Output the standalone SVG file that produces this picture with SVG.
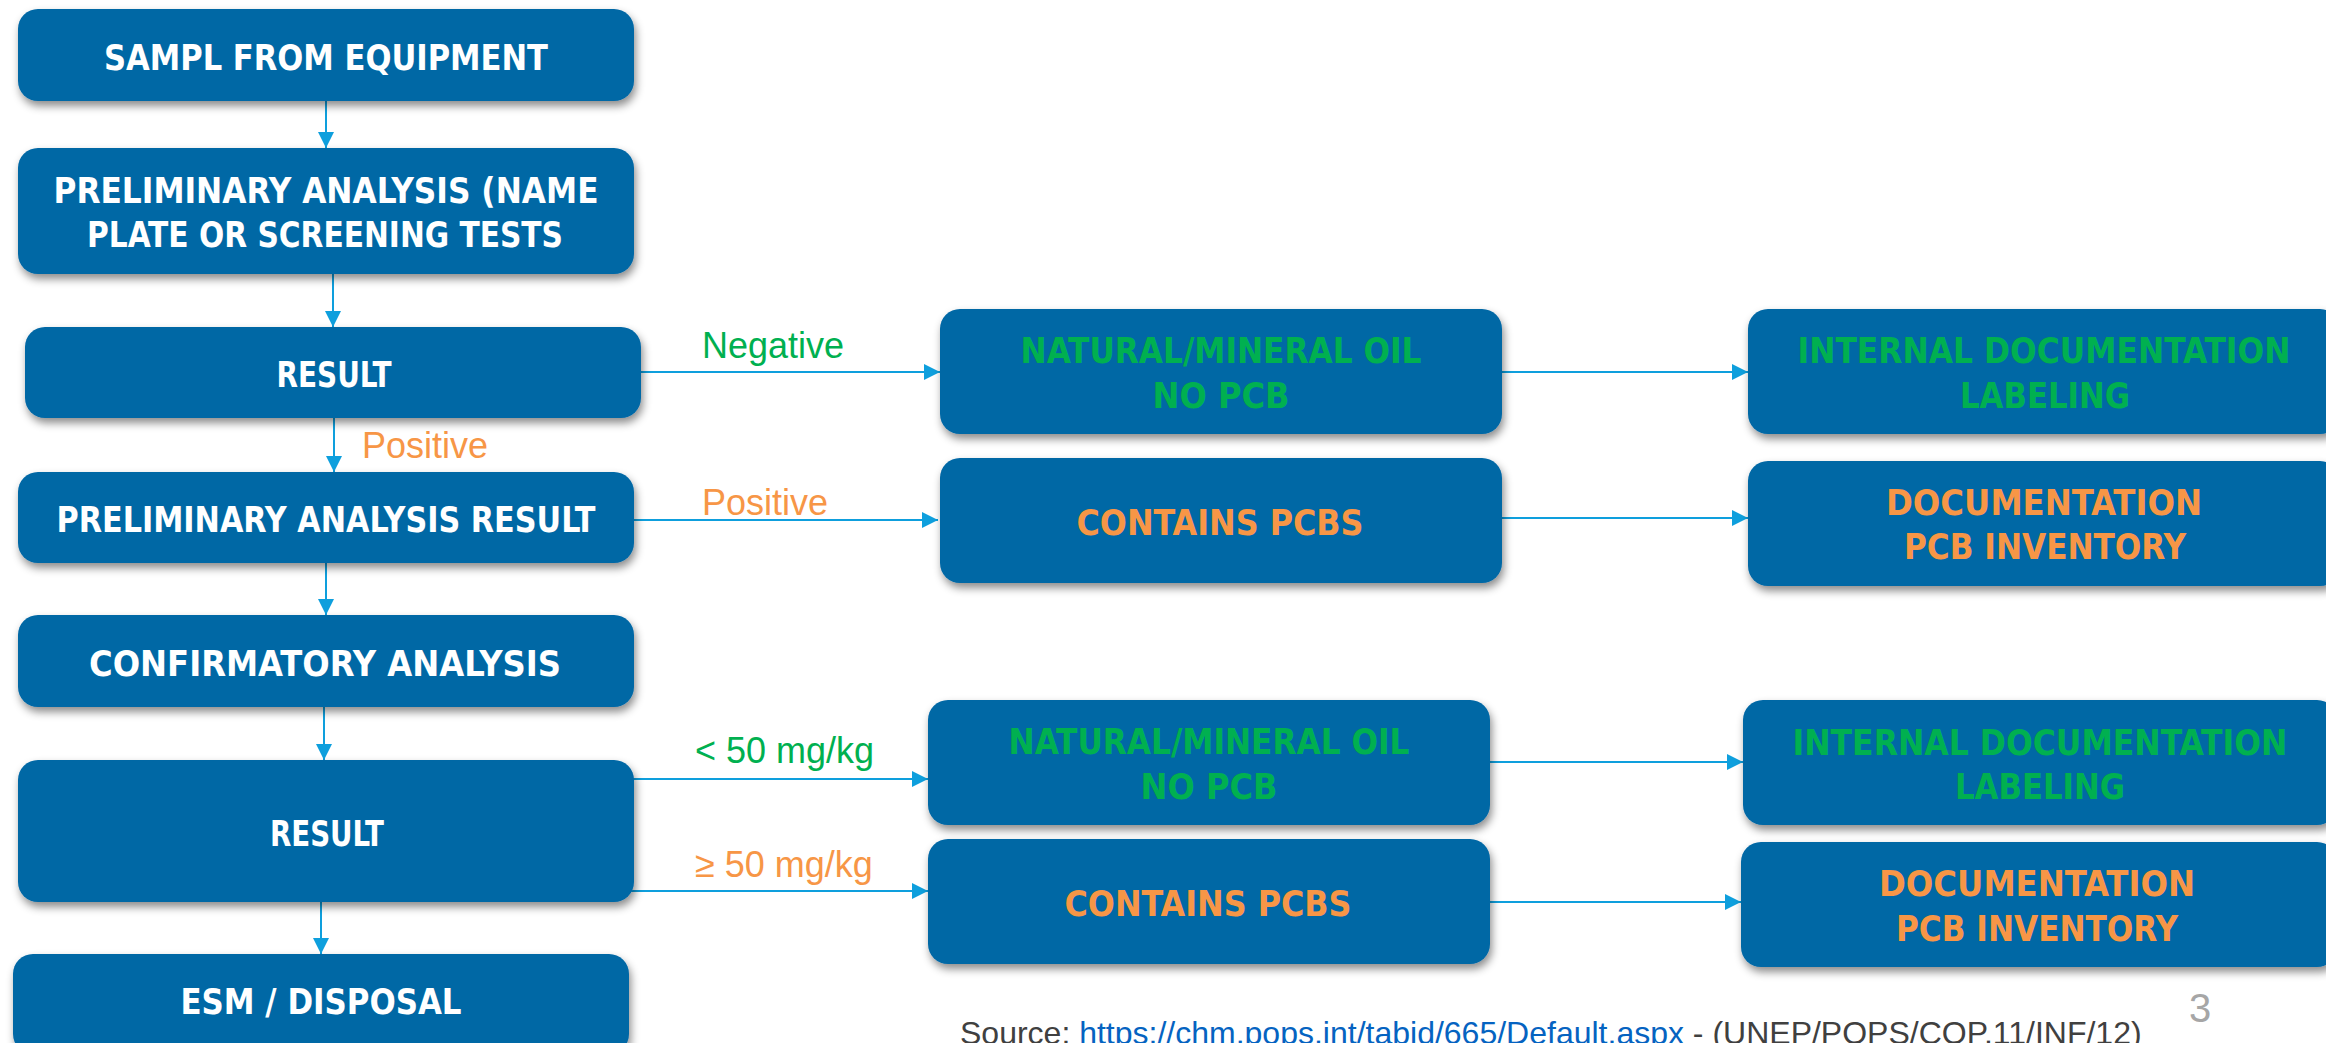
<svg xmlns="http://www.w3.org/2000/svg" width="2326" height="1043" viewBox="0 0 2326 1043">
<defs>
<filter id="sh" x="-10%" y="-20%" width="120%" height="150%">
<feDropShadow dx="2" dy="5" stdDeviation="4" flood-color="#000" flood-opacity="0.45"/>
</filter>
<marker id="ah" markerUnits="userSpaceOnUse" markerWidth="16" markerHeight="16" refX="16" refY="8" orient="auto">
<path d="M0,0 L16,8 L0,16 z" fill="#0E9FDD"/>
</marker>
<style>
.box{fill:#0467A5;filter:url(#sh)}
.t{font-family:"Liberation Sans Narrow","DejaVu Sans Condensed","Liberation Sans",sans-serif;font-weight:bold;font-size:36px;text-anchor:middle}
.w{fill:#FFFFFF}
.g{fill:#00B050}
.o{fill:#F79646}
.lbl{font-family:"Liberation Sans",Arial,sans-serif;font-size:36px}
.c{stroke:#0E9FDD;stroke-width:2;fill:none;marker-end:url(#ah)}
</style>
</defs>
<rect width="2326" height="1043" fill="#FFFFFF"/>

<g id="connectors">
<line class="c" x1="326" y1="101" x2="326" y2="148"/>
<line class="c" x1="333" y1="274" x2="333" y2="327"/>
<line class="c" x1="334" y1="418" x2="334" y2="472"/>
<line class="c" x1="326" y1="563" x2="326" y2="615"/>
<line class="c" x1="324" y1="707" x2="324" y2="760"/>
<line class="c" x1="321" y1="902" x2="321" y2="954"/>
<line class="c" x1="641" y1="372" x2="940" y2="372"/>
<line class="c" x1="634" y1="520" x2="938" y2="520"/>
<line class="c" x1="1502" y1="372" x2="1748" y2="372"/>
<line class="c" x1="1502" y1="518" x2="1748" y2="518"/>
<line class="c" x1="629" y1="779" x2="928" y2="779"/>
<line class="c" x1="629" y1="891" x2="928" y2="891"/>
<line class="c" x1="1490" y1="762" x2="1743" y2="762"/>
<line class="c" x1="1490" y1="902" x2="1741" y2="902"/>
</g>

<g id="labels">
<text class="lbl g" x="702" y="358">Negative</text>
<text class="lbl o" x="362" y="458">Positive</text>
<text class="lbl o" x="702" y="515">Positive</text>
<text class="lbl g" x="695" y="763">&lt; 50 mg/kg</text>
<text class="lbl o" x="695" y="877">≥ 50 mg/kg</text>
</g>

<g id="n-sample">
<rect class="box" x="18" y="9" width="616" height="92" rx="20"/>
<text class="t w" x="326" y="70" textLength="444" lengthAdjust="spacingAndGlyphs">SAMPL FROM EQUIPMENT</text>
</g>
<g id="n-prelim">
<rect class="box" x="18" y="148" width="616" height="126" rx="20"/>
<text class="t w" x="326" y="203" textLength="545" lengthAdjust="spacingAndGlyphs">PRELIMINARY ANALYSIS (NAME</text>
<text class="t w" x="325" y="247" textLength="476" lengthAdjust="spacingAndGlyphs">PLATE OR SCREENING TESTS</text>
</g>
<g id="n-result1">
<rect class="box" x="25" y="327" width="616" height="91" rx="20"/>
<text class="t w" x="334" y="387" textLength="115" lengthAdjust="spacingAndGlyphs">RESULT</text>
</g>
<g id="n-prelim-result">
<rect class="box" x="18" y="472" width="616" height="91" rx="20"/>
<text class="t w" x="326" y="532" textLength="539" lengthAdjust="spacingAndGlyphs">PRELIMINARY ANALYSIS RESULT</text>
</g>
<g id="n-confirm">
<rect class="box" x="18" y="615" width="616" height="92" rx="20"/>
<text class="t w" x="325" y="676" textLength="472" lengthAdjust="spacingAndGlyphs">CONFIRMATORY ANALYSIS</text>
</g>
<g id="n-result2">
<rect class="box" x="18" y="760" width="616" height="142" rx="20"/>
<text class="t w" x="327" y="846" textLength="114" lengthAdjust="spacingAndGlyphs">RESULT</text>
</g>
<g id="n-esm">
<rect class="box" x="13" y="954" width="616" height="100" rx="20"/>
<text class="t w" x="321" y="1014" textLength="281" lengthAdjust="spacingAndGlyphs">ESM / DISPOSAL</text>
</g>

<g id="n-natural1">
<rect class="box" x="940" y="309" width="562" height="125" rx="20"/>
<text class="t g" x="1221" y="363" textLength="401" lengthAdjust="spacingAndGlyphs">NATURAL/MINERAL OIL</text>
<text class="t g" x="1221" y="408" textLength="137" lengthAdjust="spacingAndGlyphs">NO PCB</text>
</g>
<g id="n-contains1">
<rect class="box" x="940" y="458" width="562" height="125" rx="20"/>
<text class="t o" x="1220" y="535" textLength="287" lengthAdjust="spacingAndGlyphs">CONTAINS PCBS</text>
</g>
<g id="n-internal1">
<rect class="box" x="1748" y="309" width="592" height="125" rx="20"/>
<text class="t g" x="2044" y="363" textLength="493" lengthAdjust="spacingAndGlyphs">INTERNAL DOCUMENTATION</text>
<text class="t g" x="2045" y="408" textLength="170" lengthAdjust="spacingAndGlyphs">LABELING</text>
</g>
<g id="n-doc1">
<rect class="box" x="1748" y="461" width="592" height="125" rx="20"/>
<text class="t o" x="2044" y="515" textLength="316" lengthAdjust="spacingAndGlyphs">DOCUMENTATION</text>
<text class="t o" x="2045" y="559" textLength="282" lengthAdjust="spacingAndGlyphs">PCB INVENTORY</text>
</g>

<g id="n-natural2">
<rect class="box" x="928" y="700" width="562" height="125" rx="20"/>
<text class="t g" x="1209" y="754" textLength="401" lengthAdjust="spacingAndGlyphs">NATURAL/MINERAL OIL</text>
<text class="t g" x="1209" y="799" textLength="137" lengthAdjust="spacingAndGlyphs">NO PCB</text>
</g>
<g id="n-contains2">
<rect class="box" x="928" y="839" width="562" height="125" rx="20"/>
<text class="t o" x="1208" y="916" textLength="287" lengthAdjust="spacingAndGlyphs">CONTAINS PCBS</text>
</g>
<g id="n-internal2">
<rect class="box" x="1743" y="700" width="594" height="125" rx="20"/>
<text class="t g" x="2040" y="755" textLength="495" lengthAdjust="spacingAndGlyphs">INTERNAL DOCUMENTATION</text>
<text class="t g" x="2040" y="799" textLength="170" lengthAdjust="spacingAndGlyphs">LABELING</text>
</g>
<g id="n-doc2">
<rect class="box" x="1741" y="842" width="596" height="125" rx="20"/>
<text class="t o" x="2037" y="896" textLength="316" lengthAdjust="spacingAndGlyphs">DOCUMENTATION</text>
<text class="t o" x="2037" y="941" textLength="282" lengthAdjust="spacingAndGlyphs">PCB INVENTORY</text>
</g>

<text x="2189" y="1022" font-family="Liberation Sans, Arial, sans-serif" font-size="40" fill="#A6A6A6">3</text>
<text x="960" y="1044" font-family="Liberation Sans, Arial, sans-serif" font-size="32" fill="#404040">Source: <tspan fill="#0563C1" text-decoration="underline">https://chm.pops.int/tabid/665/Default.aspx</tspan> - (UNEP/POPS/COP.11/INF/12)</text>
</svg>
